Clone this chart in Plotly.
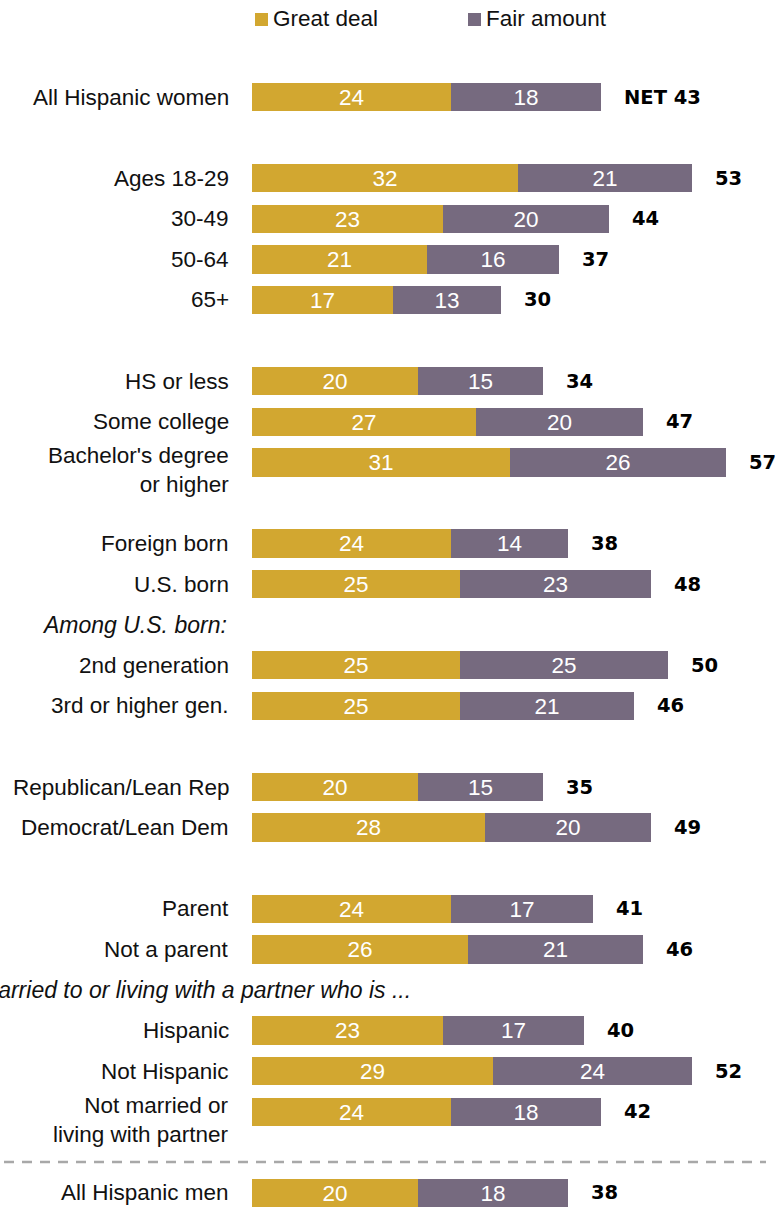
import plotly.graph_objects as go

# ---- data -------------------------------------------------------------
labels = [
    "All Hispanic women",
    "Ages 18-29", "30-49", "50-64", "65+",
    "HS or less", "Some college", "Bachelor's degree<br>or higher",
    "Foreign born", "U.S. born",
    "2nd generation", "3rd or higher gen.",
    "Republican/Lean Rep", "Democrat/Lean Dem",
    "Parent", "Not a parent",
    "Hispanic", "Not Hispanic", "Not married or<br>living with partner",
    "All Hispanic men",
]
great_deal = [24, 32, 23, 21, 17, 20, 27, 31, 24, 25, 25, 25, 20, 28, 24, 26, 23, 29, 24, 20]
fair_amount = [18, 21, 20, 16, 13, 15, 20, 26, 14, 23, 25, 21, 15, 20, 17, 21, 17, 24, 18, 18]
net_labels = ["NET 43", "53", "44", "37", "30", "34", "47", "57", "38", "48",
              "50", "46", "35", "49", "41", "46", "40", "52", "42", "38"]

subheads = ["Among U.S. born:", "Married to or living with a partner who is ..."]
series_names = ["Great deal", "Fair amount"]

# ---- layout helpers ---------------------------------------------------
W, H = 777, 1207
GOLD = "#D2A730"
PLUM = "#766A7F"
INK = "#111111"
FONT = "Liberation Sans, Arial, sans-serif"
LABEL_SIZE = 22.5

# row slots (blank slots separate the groups)
row_slot = [0, 2, 3, 4, 5, 7, 8, 9, 11, 12, 14, 15, 17, 18, 20, 21, 23, 24, 25, 27]
subhead_slot = [13, 22]
divider_slot = 26.24

ROW_PX = 40.59          # pixel distance between slots
FIRST_ROW_PX = 97       # pixel centre of slot 0
BAR_X0 = 252            # pixel where bars start
PX_PER_UNIT = 8.31      # pixels per percentage point

y_top = -FIRST_ROW_PX / ROW_PX
y_bottom = y_top + H / ROW_PX
x_left = -BAR_X0 / PX_PER_UNIT
x_right = x_left + W / PX_PER_UNIT


def px_x(p):
    return p / W


def px_y(p):
    return 1 - p / H


fig = go.Figure()

for name, vals, color in [(series_names[0], great_deal, GOLD),
                          (series_names[1], fair_amount, PLUM)]:
    fig.add_trace(go.Bar(
        name=name,
        y=row_slot,
        x=vals,
        orientation="h",
        marker=dict(color=color, line=dict(width=0)),
        width=0.70,
        text=[str(v) for v in vals],
        textposition="inside",
        insidetextanchor="middle",
        textangle=0,
        constraintext="none",
        textfont=dict(family=FONT, size=22.5, color="white"),
        hoverinfo="skip",
        showlegend=False,
    ))

annotations = []

# category labels on the left
for lab, slot in zip(labels, row_slot):
    multi = "<br>" in lab
    annotations.append(dict(
        x=0, y=slot, xref="x", yref="y",
        text=lab, showarrow=False,
        xanchor="right", yanchor="middle", align="right",
        xshift=-21, yshift=-8 if multi else 0,
        font=dict(family=FONT, size=LABEL_SIZE, color=INK),
    ))

# italic sub-headings
annotations.append(dict(
    x=0, y=subhead_slot[0], xref="x", yref="y",
    text=f"<i>{subheads[0]}</i>", showarrow=False,
    xanchor="right", yanchor="middle", xshift=-23,
    font=dict(family=FONT, size=23, color=INK),
))
annotations.append(dict(
    x=px_x(413), y=subhead_slot[1], xref="paper", yref="y",
    text=f"<i>{subheads[1]}</i>", showarrow=False,
    xanchor="right", yanchor="middle",
    font=dict(family=FONT, size=23, color=INK),
))

# NET totals to the right of each bar
for g, f, lab, slot in zip(great_deal, fair_amount, net_labels, row_slot):
    annotations.append(dict(
        x=g + f, y=slot, xref="x", yref="y",
        text=f"<b>{lab}</b>", showarrow=False,
        xanchor="left", yanchor="middle", xshift=21,
        font=dict(family="DejaVu Sans, sans-serif", size=19.5, color="#000000"),
    ))

# legend drawn as swatches + labels
shapes = []
legend_items = [(series_names[0], GOLD, 255), (series_names[1], PLUM, 468)]
for name, color, x0 in legend_items:
    shapes.append(dict(
        type="rect", xref="paper", yref="paper",
        x0=px_x(x0), x1=px_x(x0 + 13), y0=px_y(26), y1=px_y(13),
        fillcolor=color, line=dict(width=0),
    ))
    annotations.append(dict(
        x=px_x(x0 + 16), y=px_y(19), xref="paper", yref="paper",
        text=name, showarrow=False, xanchor="left", yanchor="middle",
        font=dict(family=FONT, size=LABEL_SIZE, color=INK),
    ))

# dashed divider above the men's row
shapes.append(dict(
    type="line", xref="paper", yref="y",
    x0=px_x(4), x1=px_x(766), y0=divider_slot, y1=divider_slot,
    line=dict(color="#A8A8A8", width=2.5, dash="10px,8px"),
))

fig.update_layout(
    width=W, height=H,
    margin=dict(l=0, r=0, t=0, b=0),
    barmode="stack",
    bargap=0,
    plot_bgcolor="white",
    paper_bgcolor="white",
    showlegend=False,
    xaxis=dict(range=[x_left, x_right], visible=False, fixedrange=True),
    yaxis=dict(range=[y_bottom, y_top], visible=False, fixedrange=True),
    annotations=annotations,
    shapes=shapes,
    font=dict(family=FONT),
)

fig.write_html("out.html", config={"displayModeBar": False})
